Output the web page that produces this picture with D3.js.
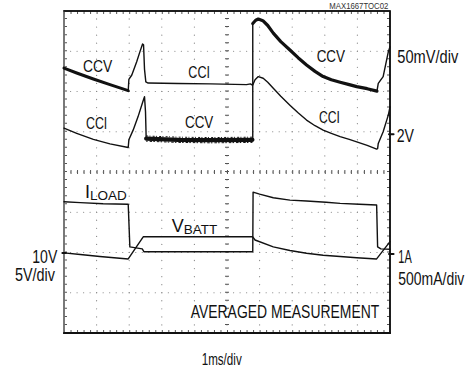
<!DOCTYPE html>
<html>
<head>
<meta charset="utf-8">
<script src="https://cdn.jsdelivr.net/npm/d3@7"></script>
<style>
  html, body { margin: 0; padding: 0; background: #fff; }
  svg { display: block; }
  text { font-family: "Liberation Sans Narrow", "Liberation Sans", Arial, sans-serif; fill: #111; }
</style>
</head>
<body>
<svg id="chart" width="475" height="369"></svg>
<script>
// Time axis in ms (10 divisions of 1 ms), vertical axis in screen divisions (8 divisions).
const timeDomain = [0, 10];
const divDomain = [0, 8];

// Upper pair of traces (50mV/div, offset 2V)
const topCcvLeft = [[0, 6.58], [0.39, 6.46], [0.9, 6.31], [1.41, 6.17], [1.97, 6.02]];
const topMid = [[1.97, 6.02], [1.99, 6.30], [2.08, 6.41], [2.23, 6.74], [2.33, 6.99], [2.41, 7.18], [2.44, 7.16],
  [2.47, 6.55], [2.51, 6.24], [2.58, 6.21], [3.5, 6.20], [4.5, 6.19], [5.6, 6.17], [5.72, 6.19], [5.77, 6.16],
  [5.79, 6.16], [5.79, 7.69]];
const topCcvRight = [[5.79, 7.69], [5.88, 7.77], [5.96, 7.80], [6.1, 7.76], [6.25, 7.64], [6.42, 7.45], [6.65, 7.24],
  [6.93, 7.03], [7.18, 6.84], [7.44, 6.66], [7.7, 6.50], [7.95, 6.37], [8.2, 6.29], [8.47, 6.23], [8.75, 6.17],
  [8.98, 6.12], [9.3, 6.07], [9.6, 6.01]];
const topEnd = [[9.6, 6.01], [9.64, 6.20], [9.79, 6.37], [9.9, 6.80], [9.95, 6.99], [10, 7.11]];

const lowCciLeft = [[0, 5.09], [0.39, 4.96], [0.9, 4.81], [1.41, 4.70], [1.97, 4.61], [1.99, 4.80], [2.12, 5.04],
  [2.27, 5.37], [2.42, 5.75], [2.47, 5.87], [2.50, 5.5], [2.52, 4.87]];
const lowCcvMid = [[2.52, 4.83], [3.5, 4.80], [4.5, 4.79], [5.78, 4.80]];
const lowCciRight = [[5.79, 4.80], [5.79, 6.16], [5.86, 6.29], [5.96, 6.37], [6.11, 6.33], [6.25, 6.23], [6.42, 6.08],
  [6.65, 5.88], [6.93, 5.66], [7.18, 5.47], [7.44, 5.29], [7.7, 5.15], [7.95, 5.04], [8.2, 4.96], [8.47, 4.88],
  [8.75, 4.81], [8.98, 4.75], [9.3, 4.66], [9.59, 4.57], [9.62, 4.58], [9.64, 4.71], [9.79, 5.0], [9.95, 5.42], [10, 5.62]];

// Lower pair: load current (500mA/div) and battery voltage (5V/div)
const iLoad = [[0, 3.26], [0.5, 3.24], [1.2, 3.21], [1.97, 3.20], [2.02, 2.14], [2.4, 2.09], [2.45, 2.02],
  [5.79, 2.02], [5.80, 3.50], [6.0, 3.45], [6.42, 3.36], [6.93, 3.30], [7.44, 3.28], [8.04, 3.25], [8.47, 3.22],
  [9.06, 3.20], [9.59, 3.18], [9.62, 2.14], [9.72, 2.09], [10, 2.08]];
const vBatt = [[0, 1.99], [0.5, 1.95], [1.1, 1.90], [1.97, 1.84], [2.43, 2.39], [5.79, 2.39], [5.86, 2.31],
  [6.42, 2.14], [6.93, 2.05], [7.44, 1.98], [7.95, 1.93], [8.47, 1.90], [8.98, 1.87], [9.59, 1.84], [10, 2.27]];

// Ground / reference markers (division level)
const leftMarkerLevel = 1.99;   // 10V
const rightMarkers = [4.94, 1.96]; // 2V, 1A

const svg = d3.select("#chart");
const x = d3.scaleLinear().domain(timeDomain).range([64, 390]);
const y = d3.scaleLinear().domain(divDomain).range([333, 11]);

const lineGen = d3.line().x(d => x(d[0])).y(d => y(d[1]));
const minorT = d3.range(0, 10.001, 0.2);
const minorV = d3.range(0, 8.001, 0.2);

function seg(points, color, width, extra) {
  const p = svg.append("path").datum(points).attr("d", lineGen)
    .attr("fill", "none").attr("stroke", color).attr("stroke-width", width)
    .attr("stroke-linejoin", "round").attr("stroke-linecap", "round");
  if (extra) Object.entries(extra).forEach(([k, v]) => p.attr(k, v));
  return p;
}
// polyline through every minor step along a constant level
const alongT = v => minorT.map(t => [t, v]);
const alongV = t => minorV.map(v => [t, v]);

// dotted graticule
d3.range(1, 10).forEach(t => seg(alongV(t), "#8a8a8a", 1.2, { "stroke-dasharray": "0.1,7.95" }));
d3.range(1, 8).forEach(v => seg(alongT(v), "#8a8a8a", 1.2, { "stroke-dasharray": "0.1,6.42" }));

// minor ticks: inward on the frame, both sides on the center cross
const tT = 3 / 32.6, tV = 3 / 40.25;
seg(alongT(8 - tV / 2), "#555", 3, { "stroke-dasharray": "1,5.52", "stroke-linecap": "butt" });
seg(alongT(tV / 2), "#555", 3, { "stroke-dasharray": "1,5.52", "stroke-linecap": "butt" });
seg(alongT(4), "#555", 4, { "stroke-dasharray": "1,5.52", "stroke-linecap": "butt" });
seg(alongV(tT / 2), "#555", 3, { "stroke-dasharray": "1,7.05", "stroke-linecap": "butt" });
seg(alongV(10 - tT / 2), "#555", 3, { "stroke-dasharray": "1,7.05", "stroke-linecap": "butt" });
seg(alongV(5), "#555", 4, { "stroke-dasharray": "1,7.05", "stroke-linecap": "butt" });

// frame as a filled ring (outer edge minus inner edge)
const ring = [[0, 0], [10, 0], [10, 8], [0, 8], [0, 0]];
const pad = 0.75;
const ringPath = d3.path();
const corners = ring.map(d => [x(d[0]), y(d[1])]);
ringPath.moveTo(x(0) - pad, y(0) + 1); ringPath.lineTo(x(10) + pad, y(0) + 1);
ringPath.lineTo(x(10) + pad, y(8) - pad); ringPath.lineTo(x(0) - pad, y(8) - pad); ringPath.closePath();
ringPath.moveTo(x(0) + pad, y(0) - 1); ringPath.lineTo(x(0) + pad, y(8) + pad);
ringPath.lineTo(x(10) - pad, y(8) + pad); ringPath.lineTo(x(10) - pad, y(0) - 1); ringPath.closePath();
svg.append("path").attr("d", ringPath.toString()).attr("fill", "#111").attr("fill-rule", "evenodd");
// the left edge is lighter
seg(alongV(0), "#888", 1.5, { "stroke-linecap": "butt" });
// frame also stroked along its corners
seg(corners.map(c => [x.invert(c[0]), y.invert(c[1])]).slice(1, 4), "#111", 1.5);
seg(alongT(0), "#111", 2);

// traces
function trace(data, width, jagged) {
  seg(data, "#111", width);
  if (jagged) {
    // thin offset copies give the noisy band its ragged edges
    [-jagged, jagged].forEach((o, i) => {
      seg(data.map(d => [d[0], d[1] + o]), "#111", 1,
        { "stroke-dasharray": i ? "2,1.3,1,2.2" : "1.5,2,2.5,1.2", "stroke-linecap": "butt" });
    });
  }
}
trace(topCcvLeft, 3);
trace(topMid, 1.4);
trace(topCcvRight, 3.2);
trace(topEnd, 1.4);
trace(lowCciLeft, 1.4);
trace(lowCcvMid, 4.2, 0.065);
trace(lowCciRight, 1.4);
trace(iLoad, 1.4);
trace(vBatt, 1.4);

// reference markers
const markerSpan = (t0, t1, v) => d3.range(0, 4).map(i => [t0 + (t1 - t0) * i / 3, v]);
seg(markerSpan(-0.05, 0.06, leftMarkerLevel), "#111", 2);
rightMarkers.forEach(v => seg(markerSpan(9.97, 10.11, v), "#111", 2));

// labels
function label(txt, xPos, yPos, width, size) {
  const t = svg.append("text").attr("x", xPos).attr("y", yPos).attr("font-size", size || 18).text(txt);
  if (width) t.attr("textLength", width).attr("lengthAdjust", "spacingAndGlyphs");
  return t;
}
label("MAX1667TOC02", 329.3, 8.6, 59, 8.5).style("fill", "#333");
label("CCV", 83, 72, 29.3, 17);
label("CCI", 188.3, 78, 21.7, 17);
label("CCI", 86, 129, 21.3, 17);
label("CCV", 185, 128, 28.3, 17);
label("CCV", 316.7, 61.5, 28.3, 17);
label("CCI", 319, 122.5, 21, 17);
label("50mV/div", 397.3, 63, 61);
label("2V", 396.7, 141.5, 17.3);
label("10V", 32.3, 262.5, 25);
label("5V/div", 15, 281, 40);
label("1A", 398.3, 262.5, 13.4);
label("500mA/div", 398.3, 284.5, 66, 17.5);
label("AVERAGED MEASUREMENT", 190.7, 318, 188.6);
label("1ms/div", 201.7, 365, 40, 17);

const il = svg.append("text").attr("x", 85).attr("y", 198.3).attr("font-size", 18);
il.append("tspan").text("I");
il.append("tspan").attr("dy", 2).attr("font-size", 13.5).text("LOAD");
const vb = svg.append("text").attr("x", 171.7).attr("y", 231.7).attr("font-size", 18);
vb.append("tspan").text("V");
vb.append("tspan").attr("dy", 2).attr("font-size", 13.5).text("BATT");
</script>
</body>
</html>
